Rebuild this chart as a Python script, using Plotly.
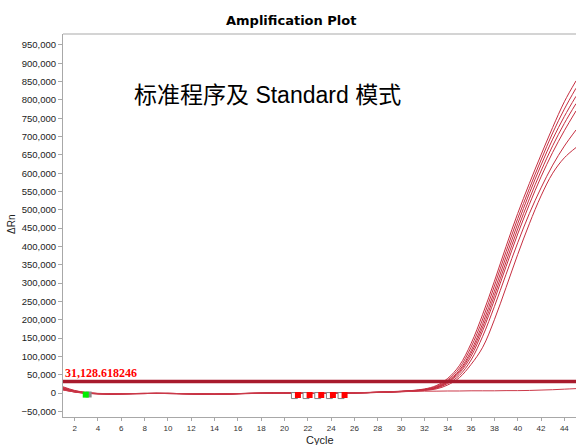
import plotly.graph_objects as go

# Cycle numbers and fluorescence (ΔRn) readings for each well
cycles = list(range(1, 46))

curve_a = [15000, 6000, 1000, -1500, -2500, -2000, -1500, -1500, -1000, -1000,
           -1500, -2000, -2500, -3000, -2500, -1500, -1000, -500, 0, 0,
           -500, -1000, -1000, -500, 0, 500, 1500, 2500, 3500, 5000,
           7000, 11000, 20000, 40000, 75000, 135000, 215000, 305000, 400000, 490000,
           572000, 650000, 725000, 795000, 852000]
curve_b = [12000, 4000, 0, -2000, -2500, -2000, -1500, -1000, -1000, -1500,
           -2000, -2500, -3000, -3000, -2000, -1500, -1000, -500, 0, 0,
           -500, -1000, -1000, -500, 0, 500, 1000, 2000, 3000, 4500,
           6500, 10000, 18000, 36000, 68000, 125000, 202000, 292000, 386000, 476000,
           558000, 636000, 710000, 775000, 832000]
curve_c = [10000, 3000, -500, -2000, -2500, -2000, -1500, -1000, -1000, -1500,
           -2000, -2500, -3000, -3500, -2500, -1500, -1000, -500, 0, 0,
           -500, -1000, -1000, -500, 0, 500, 1000, 2000, 3000, 4500,
           6000, 9500, 16000, 33000, 62000, 115000, 190000, 278000, 372000, 462000,
           545000, 622000, 693000, 755000, 810000]
curve_d = [17000, 7000, 1500, -1000, -2000, -2000, -1500, -1500, -1000, -1000,
           -1500, -2000, -2500, -3000, -2500, -2000, -1000, -500, 0, 500,
           0, -500, -1000, -500, 0, 500, 1000, 2000, 3000, 4000,
           6000, 9000, 15000, 31000, 58000, 108000, 180000, 266000, 358000, 448000,
           530000, 606000, 675000, 736000, 790000]
curve_e = [13000, 5000, 500, -1500, -2500, -2500, -2000, -1500, -1000, -1000,
           -1500, -2000, -3000, -3500, -3000, -2000, -1000, -500, 0, 0,
           -500, -1000, -1500, -1000, -500, 0, 1000, 2000, 3000, 4000,
           5500, 8500, 14000, 29000, 54000, 100000, 170000, 254000, 345000, 434000,
           515000, 590000, 657000, 716000, 770000]
curve_f = [11000, 3500, -500, -2000, -3000, -2500, -2000, -1500, -1000, -1000,
           -1500, -2500, -3000, -3500, -3000, -2000, -1500, -500, 0, 0,
           -500, -1000, -1500, -1000, -500, 0, 500, 1500, 2500, 3500,
           5000, 8000, 13000, 26000, 48000, 90000, 155000, 236000, 324000, 410000,
           490000, 560000, 622000, 674000, 718000]
curve_g = [9000, 2500, -1000, -2500, -3000, -2500, -2000, -1500, -1000, -1500,
           -2000, -2500, -3000, -3500, -3000, -2000, -1500, -1000, -500, 0,
           -500, -1000, -1500, -1000, -500, 0, 500, 1500, 2500, 3500,
           4500, 7000, 11000, 22000, 42000, 78000, 125000, 200000, 288000, 378000,
           462000, 538000, 600000, 642000, 670000]
# no-template control stays flat
curve_ntc = [8000, 3000, 0, -1500, -2000, -2000, -1500, -1000, -1000, -1000,
             -1500, -2000, -2500, -3000, -2500, -1500, -1000, -500, 0, 0,
             -500, -1000, -1000, -500, 0, 500, 1000, 2000, 3000, 4000,
             4500, 5000, 5000, 5500, 5500, 6000, 6000, 6000, 6500, 6500,
             7000, 8000, 9000, 10500, 12000]

threshold = 31128.618246
threshold_label = "31,128.618246"

# baseline start / end markers
start_cycles = [2.95]
start_values = [-4500]
start_edge_cycles = [3.2]
start_edge_values = [-4000]
end_cycles = [21.15, 22.15, 23.15, 24.15, 25.15]
end_values = [-5500, -5500, -5500, -5500, -5500]
end_edge_cycles = [20.85, 21.85, 22.85, 23.85, 24.85]
end_edge_values = [-7000, -7000, -7000, -7000, -7000]

x_ticks = list(range(2, 46, 2))
y_ticks = list(range(-50000, 1000001, 50000))

title_text = "Amplification Plot"
mode_text = "标准程序及 Standard 模式"
x_title = "Cycle"
y_title = "ΔRn"

curve_color = "#c62e40"
fig = go.Figure()

for ys in [curve_g, curve_f, curve_e, curve_d, curve_c, curve_b, curve_a]:
    fig.add_trace(go.Scatter(x=cycles, y=ys, mode="lines",
                             line=dict(color=curve_color, width=1, shape="spline"),
                             showlegend=False, hoverinfo="skip"))
fig.add_trace(go.Scatter(x=cycles, y=curve_ntc, mode="lines",
                         line=dict(color="#cc3a4a", width=1, shape="spline"),
                         showlegend=False, hoverinfo="skip"))

# threshold line
fig.add_shape(type="line", xref="x", yref="y", x0=1, x1=45,
              y0=threshold, y1=threshold,
              line=dict(color="#a81b2d", width=3.5))

# markers
fig.add_trace(go.Scatter(x=end_edge_cycles, y=end_edge_values, mode="markers",
                         marker=dict(symbol="square", size=6, color="white",
                                     line=dict(color="#808080", width=1)),
                         showlegend=False, hoverinfo="skip"))
fig.add_trace(go.Scatter(x=end_cycles, y=end_values, mode="markers",
                         marker=dict(symbol="square", size=6, color="#ff0000",
                                     line=dict(width=0)),
                         showlegend=False, hoverinfo="skip"))
fig.add_trace(go.Scatter(x=start_edge_cycles, y=start_edge_values, mode="markers",
                         marker=dict(symbol="square", size=6, color="#8c8c8c",
                                     line=dict(width=0)),
                         showlegend=False, hoverinfo="skip"))
fig.add_trace(go.Scatter(x=start_cycles, y=start_values, mode="markers",
                         marker=dict(symbol="square", size=6, color="#00ee00",
                                     line=dict(width=0)),
                         showlegend=False, hoverinfo="skip"))

# top border of the plot area
fig.add_shape(type="line", xref="paper", yref="paper", x0=0, x1=1, y0=1, y1=1,
              line=dict(color="#d4d4d4", width=2))

annotations = [
    dict(text=threshold_label, xref="x", yref="y", x=1, y=threshold,
         xanchor="left", yanchor="bottom", showarrow=False, yshift=0,
         font=dict(family="Liberation Serif", size=12, color="#ff0000", weight="bold")),
    dict(text=mode_text, xref="paper", yref="paper", x=(267 - 63) / 513, y=1 - (95 - 34) / 383,
         xanchor="center", yanchor="middle", showarrow=False,
         font=dict(family="Liberation Sans, Noto Sans CJK SC", size=23, color="#000000")),
    dict(text=title_text, xref="paper", yref="paper", x=(291 - 63) / 513, y=1 + (34 - 21) / 383,
         xanchor="center", yanchor="middle", showarrow=False,
         font=dict(family="DejaVu Sans", size=13, color="#000000", weight="bold")),
    dict(text=x_title, xref="paper", yref="paper", x=(320 - 63) / 513, y=-(440 - 417) / 383,
         xanchor="center", yanchor="middle", showarrow=False,
         font=dict(family="Liberation Sans", size=11, color="#222222")),
    dict(text=y_title, xref="paper", yref="paper", x=-(63 - 12) / 513, y=1 - (225 - 34) / 383,
         xanchor="center", yanchor="middle", showarrow=False, textangle=-90,
         font=dict(family="Liberation Sans", size=10, color="#222222")),
]

fig.update_layout(
    width=576, height=445,
    margin=dict(l=63, r=0, t=34, b=28, pad=0),
    paper_bgcolor="white", plot_bgcolor="white",
    annotations=annotations,
    xaxis=dict(range=[1, 45], tickvals=x_ticks, showgrid=False, zeroline=False,
               showline=True, linecolor="#a8a8a8", linewidth=1,
               ticks="outside", ticklen=3, tickcolor="#a8a8a8",
               tickfont=dict(family="Liberation Sans", size=8, color="#333333")),
    yaxis=dict(range=[-65500, 980000], tickvals=y_ticks, tickformat=",d",
               showgrid=False, zeroline=False,
               showline=True, linecolor="#a8a8a8", linewidth=1,
               ticks="outside", ticklen=4, tickcolor="#a8a8a8",
               tickfont=dict(family="Liberation Sans", size=9.5, color="#222222")),
)

fig.write_html("out.html")
